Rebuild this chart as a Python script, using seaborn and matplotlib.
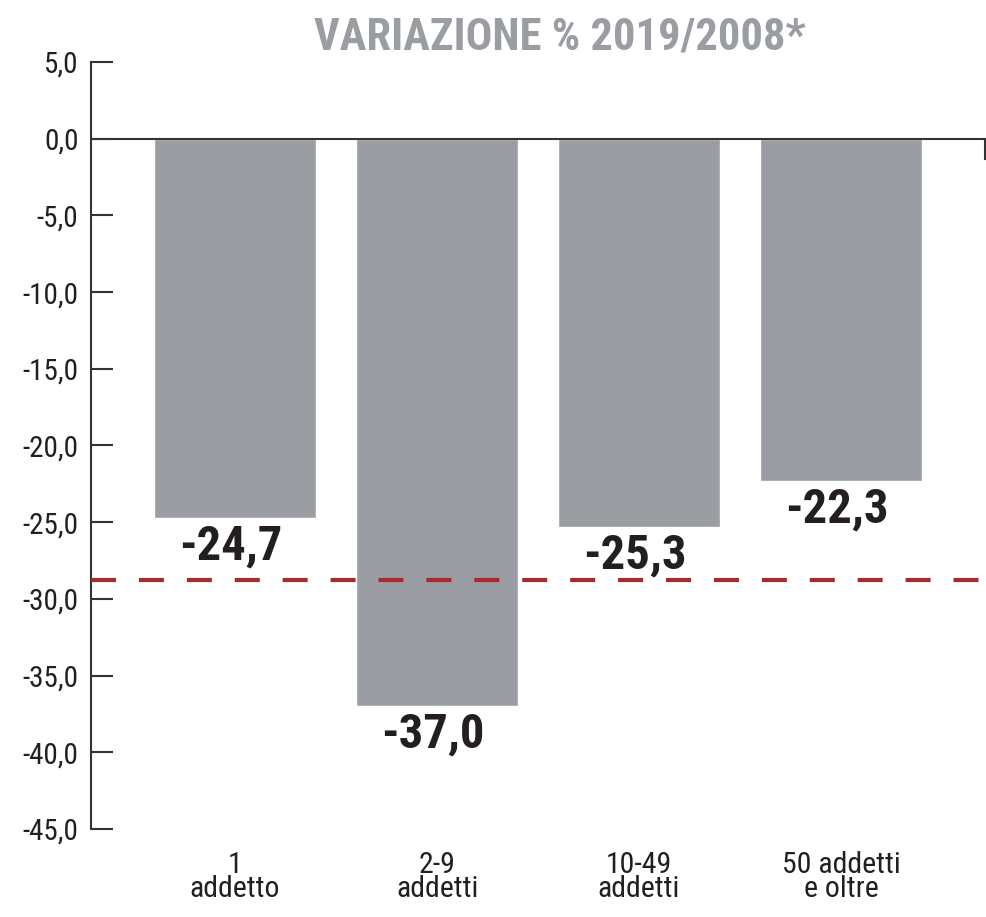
import matplotlib
matplotlib.use('Agg')
import matplotlib.pyplot as plt
import seaborn as sns
from matplotlib import font_manager
from matplotlib.font_manager import FontProperties

# data
categories = ['1\naddetto', '2-9\naddetti', '10-49\naddetti', '50 addetti\ne oltre']
values = [-24.7, -37.0, -25.3, -22.3]
media = -28.8
y_ticks = [5, 0, -5, -10, -15, -20, -25, -30, -35, -40, -45]
title = 'VARIAZIONE % 2019/2008*'

BAR_COLOR = '#9a9da1'
RED = '#a92a2e'
DARK = '#231f20'

sns.set_theme(style='white')
plt.rcParams['font.family'] = ['Roboto', 'DejaVu Sans']


# look for a condensed/narrow font file on the system, fall back to Roboto
def pick_font(bold):
    prefs = ['robotocondensed', 'liberationsansnarrow', 'notosans-condensed',
             'dejavusanscondensed', 'opensans-condensed', 'notosans-semicondensed',
             'condensed', 'narrow']
    files = [f.fname for f in font_manager.fontManager.ttflist]
    best = None
    for p in prefs:
        for fn in files:
            low = fn.lower().replace(' ', '').replace('_', '')
            base = low.rsplit('/', 1)[-1]
            if p not in base or 'italic' in base or 'oblique' in base:
                continue
            if p == 'notosans-condensed' and ('semi' in base or 'extra' in base):
                continue
            is_bold = 'bold' in base and 'semibold' not in base and 'extrabold' not in base
            is_reg = not any(w in base for w in ['bold', 'light', 'thin', 'black', 'medium'])
            if (bold and is_bold) or (not bold and is_reg):
                best = fn
                break
        if best:
            break
    if best:
        return FontProperties(fname=best)
    return FontProperties(family='Roboto', weight='bold' if bold else 'normal')


fp_reg = pick_font(False)
fp_bold = pick_font(True)


def fmt(v):
    return f'{v:.1f}'.replace('.', ',')


fig = plt.figure(figsize=(9.87, 9.17), dpi=100)
ax = fig.add_axes([91 / 987, 88 / 917, 894 / 987, 767 / 917])

sns.barplot(x=categories, y=values, color=BAR_COLOR, width=0.8, saturation=1, ax=ax)

ax.set_ylim(-45, 5)
ax.set_xlim(-0.713, 3.713)
ax.set_yticks(y_ticks)
ax.set_yticklabels([fmt(t) for t in y_ticks])
ax.tick_params(axis='y', left=True, direction='in', length=16, width=1.5, color='#333333', pad=9)
ax.tick_params(axis='x', bottom=False, length=0, pad=16)
for lbl in ax.get_yticklabels():
    lbl.set_fontproperties(fp_reg)
    lbl.set_fontsize(21)
    lbl.set_color(DARK)
for lbl in ax.get_xticklabels():
    lbl.set_fontproperties(fp_reg)
    lbl.set_fontsize(21.5)
    lbl.set_color(DARK)
    lbl.set_linespacing(0.82)

for s in ['top', 'bottom']:
    ax.spines[s].set_visible(False)
ax.spines['left'].set_color('#333333')
ax.spines['left'].set_linewidth(1.5)
ax.spines['right'].set_color('#333333')
ax.spines['right'].set_linewidth(1.5)
ax.spines['right'].set_bounds(-1.3, 0)

ax.axhline(0, color='#333333', lw=1.5, zorder=3)
ax.axhline(media, color=RED, lw=3, dashes=(6, 5.5), zorder=4)

for i, v in enumerate(values):
    ax.annotate(fmt(v), xy=(i, v), xytext=(-3, -4), textcoords='offset points',
                ha='center', va='top', fontproperties=fp_bold, fontsize=35,
                color=DARK, zorder=5)

ax.set_xlabel('')
ax.set_ylabel('')

fig.text(560 / 987, 1 - 50 / 917, title, ha='center', va='baseline',
         fontproperties=fp_bold, fontsize=32, color=BAR_COLOR)

fig.savefig('out.png', dpi=100)
